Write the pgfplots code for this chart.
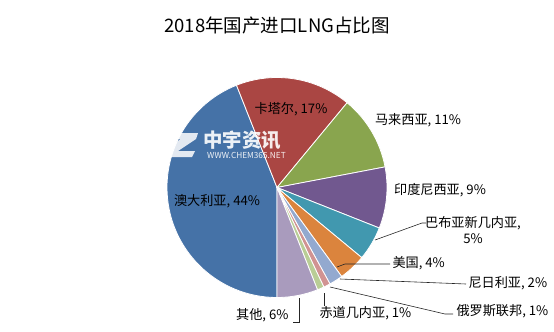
\documentclass[border=0pt]{standalone}
\usepackage{pgfplots}
\pgfplotsset{compat=1.18}
\usepackage{pgfplotstable}
\usepackage{fontspec}
\setmainfont{Noto Sans CJK SC}
\definecolor{cAus}{HTML}{4572A7}
\definecolor{cQat}{HTML}{AA4643}
\definecolor{cMal}{HTML}{89A54E}
\definecolor{cIdn}{HTML}{71588F}
\definecolor{cPng}{HTML}{4198AF}
\definecolor{cUsa}{HTML}{DB843D}
\definecolor{cNga}{HTML}{93A9CF}
\definecolor{cRus}{HTML}{D19392}
\definecolor{cGnq}{HTML}{B9CD96}
\definecolor{cOth}{HTML}{A99BBD}
\begin{document}
\begin{tikzpicture}
\begin{axis}[
  width=554bp, height=332bp, scale only axis,
  xmin=0, xmax=554, ymin=0, ymax=332, y dir=reverse,
  hide axis, clip=false]
\path (axis cs:0,0) rectangle (axis cs:554,332);
\pgfplotsextra{%
  \gdef\ang{-90}%
  \foreach \v/\c in {44/cAus,17/cQat,11/cMal,9/cIdn,5/cPng,4/cUsa,2/cNga,1/cRus,1/cGnq,6/cOth}{%
    \pgfmathsetmacro\e{\ang-3.6*\v}%
    \fill[\c, draw=white, line width=0.8pt, line join=round]
      (axis cs:277,187.5) -- ++(\ang:110bp) arc[start angle=\ang, end angle=\e, radius=110bp] -- cycle;
    \xdef\ang{\e}%
  }%
}
% watermark
\fill[white, opacity=0.85] (axis cs:166,133) -- (axis cs:198,133) -- (axis cs:196,139) -- (axis cs:178,151) -- (axis cs:195,151) -- (axis cs:192,157) -- (axis cs:160,157) -- (axis cs:162,151) -- (axis cs:181,139) -- (axis cs:164,139) -- cycle;
\node[white, opacity=0.9, font=\fontsize{19.5}{20}\selectfont\bfseries] at (axis cs:242,140) {中宇资讯};
\node[white, opacity=0.9, font=\fontsize{8.3}{9}\selectfont] at (axis cs:246.5,155) {WWW.CHEM365.NET};
% title
\node[font=\fontsize{18.6}{20}\selectfont] at (axis cs:277,25) {2018年国产进口LNG占比图};
% labels
\begin{scope}[font=\fontsize{13.2}{15}\selectfont]
\node at (axis cs:291,109) {卡塔尔, 17\%};
\node at (axis cs:418,120) {马来西亚, 11\%};
\node at (axis cs:440,190) {印度尼西亚, 9\%};
\node[align=center] at (axis cs:473,230) {巴布亚新几内亚,\\[1pt]5\%};
\node[anchor=west] at (axis cs:389,263) {美国, 4\%};
\node[anchor=west] at (axis cs:465,283) {尼日利亚, 2\%};
\node[anchor=west] at (axis cs:453,311) {俄罗斯联邦, 1\%};
\node[anchor=west] at (axis cs:316,313) {赤道几内亚, 1\%};
\node[anchor=east] at (axis cs:292,315) {其他, 6\%};
\node at (axis cs:217,201) {澳大利亚, 44\%};
\end{scope}
% leader lines
\begin{scope}[black!85, line width=0.6pt]
\draw (axis cs:375,240) -- (axis cs:422,223) -- (axis cs:426,223);
\draw (axis cs:337,267) -- (axis cs:345,264) -- (axis cs:390,264);
\draw (axis cs:340,279) -- (axis cs:466,284);
\draw (axis cs:330,287) -- (axis cs:445,314) -- (axis cs:453,314);
\draw (axis cs:324,293) -- (axis cs:324,306);
\draw (axis cs:299,298) -- (axis cs:299,322) -- (axis cs:293,322);
\end{scope}
\end{axis}
\end{tikzpicture}
\end{document}
